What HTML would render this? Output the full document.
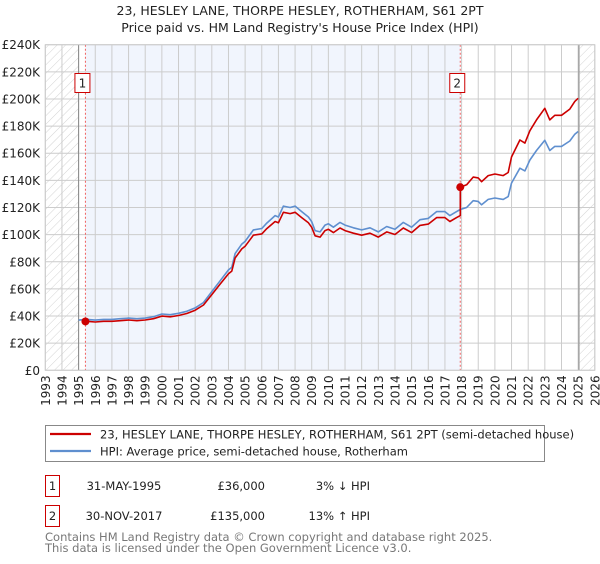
<!DOCTYPE html>
<html><head><meta charset="utf-8">
<style>
body{margin:0;background:#fff;width:600px;height:560px;overflow:hidden;font-family:"DejaVu Sans","Liberation Sans",sans-serif;}
svg text{font-family:"DejaVu Sans","Liberation Sans",sans-serif;}
</style></head>
<body>
<svg id="chart" width="600" height="560" viewBox="0 0 600 560" xmlns="http://www.w3.org/2000/svg">
<defs>
<pattern id="hatch" width="6" height="6" patternUnits="userSpaceOnUse" patternTransform="rotate(45)">
<rect width="6" height="6" fill="#fff"/><line x1="0" y1="0" x2="0" y2="6" stroke="#c8c8c8" stroke-width="0.8"/>
</pattern>
</defs>
<text x="300" y="15" text-anchor="middle" font-size="12.5" fill="#222">23, HESLEY LANE, THORPE HESLEY, ROTHERHAM, S61 2PT</text>
<text x="300" y="32" text-anchor="middle" font-size="12.5" fill="#222">Price paid vs. HM Land Registry's House Price Index (HPI)</text>
<g id="plot"></g>
<g>
<rect x="45.5" y="425.5" width="499" height="36" fill="#fff" stroke="#888"/>
<line x1="50" y1="434" x2="91" y2="434" stroke="#cc0000" stroke-width="2.2"/>
<text x="100" y="438.5" font-size="11.5" fill="#222">23, HESLEY LANE, THORPE HESLEY, ROTHERHAM, S61 2PT (semi-detached house)</text>
<line x1="50" y1="451" x2="91" y2="451" stroke="#5f8fcf" stroke-width="2.2"/>
<text x="100" y="455.5" font-size="11.5" fill="#222">HPI: Average price, semi-detached house, Rotherham</text>
</g>
<g font-size="11.5" fill="#222">
<rect x="45.5" y="475.5" width="14" height="21" fill="#fff" stroke="#cc0000"/>
<text x="52.5" y="490" text-anchor="middle">1</text>
<text x="124" y="490" text-anchor="middle">31-MAY-1995</text>
<text x="265" y="490" text-anchor="end">£36,000</text>
<text x="370" y="490" text-anchor="end">3% ↓ HPI</text>
<rect x="45.5" y="505.5" width="14" height="21" fill="#fff" stroke="#cc0000"/>
<text x="52.5" y="520" text-anchor="middle">2</text>
<text x="124" y="520" text-anchor="middle">30-NOV-2017</text>
<text x="265" y="520" text-anchor="end">£135,000</text>
<text x="370" y="520" text-anchor="end">13% ↑ HPI</text>
</g>
<text x="45" y="541" font-size="11.5" fill="#777">Contains HM Land Registry data © Crown copyright and database right 2025.</text>
<text x="45" y="552" font-size="11.5" fill="#777">This data is licensed under the Open Government Licence v3.0.</text>
</svg>
<script>
const hpiYears=[1995.0,1995.5,1996.0,1996.5,1997.0,1997.5,1998.0,1998.5,1999.0,1999.5,2000.0,2000.5,2001.0,2001.5,2002.0,2002.5,2003.0,2003.5,2004.0,2004.2,2004.4,2004.8,2005.0,2005.5,2006.0,2006.3,2006.8,2007.0,2007.3,2007.7,2008.0,2008.4,2008.8,2009.0,2009.2,2009.5,2009.8,2010.0,2010.3,2010.7,2011.0,2011.5,2012.0,2012.5,2013.0,2013.5,2014.0,2014.5,2015.0,2015.5,2016.0,2016.5,2017.0,2017.3,2017.7,2017.92,2018.3,2018.7,2019.0,2019.2,2019.6,2020.0,2020.5,2020.8,2021.0,2021.5,2021.8,2022.1,2022.5,2023.0,2023.3,2023.6,2024.0,2024.5,2024.8,2025.0];
const hpiValues=[37,37.5,37,37.5,37.5,38,38.5,38,38.5,39.5,41.5,41,42,43.5,46,50,58,66,74,76,86,93,95,103.5,104.5,108.5,114,113,121,120,121,117,113,109.5,103,102,107,108,105.5,109,107,105,103.5,105,102,106,104,109,105.5,111,112,117,117,114,117,118.5,120,125,124.5,122,126,127,126,128,138,149,147,155,162,169.5,162,165,165,169,174,176];
const sales=[{year:1995.41,price:36},{year:2017.92,price:135}];
const yTicks=[0,20,40,60,80,100,120,140,160,180,200,220,240];
const xYears=[];for(let y=1993;y<=2026;y++)xYears.push(y);

const X0=45.3,X1=594.8,Y0=370.3,Y1=44.7;
const xs=y=>X0+(y-1993)/(2026-1993)*(X1-X0);
const ys=v=>Y0-v/240*(Y0-Y1);
const NS="http://www.w3.org/2000/svg";
const plot=document.getElementById('plot');
function mk(tag,attrs,parent){const e=document.createElementNS(NS,tag);for(const k in attrs)e.setAttribute(k,attrs[k]);(parent||plot).appendChild(e);return e;}

const bg=mk('rect',{x:X0,y:Y1,width:X1-X0,height:Y0-Y1,fill:'#fff'});


const shade=mk('rect',{x:xs(sales[0].year),y:Y1,width:xs(sales[1].year)-xs(sales[0].year),height:Y0-Y1,fill:'#f1f5fd'});


const h1=mk('rect',{x:X0,y:Y1,width:xs(1995.0)-X0,height:Y0-Y1,fill:'url(#hatch)'});


const h2=mk('rect',{x:xs(2025.1),y:Y1,width:X1-xs(2025.1),height:Y0-Y1,fill:'url(#hatch)'});



yTicks.forEach(v=>{
  const l=mk('line',{x1:X0,x2:X1,y1:ys(v),y2:ys(v),stroke:'#cccccc','stroke-width':1});
  
  
  const t=mk('text',{x:40,y:ys(v)+4.5,'text-anchor':'end','font-size':12,fill:'#222'});
  t.textContent=v===0?'£0':'£'+v+'K';
  
  
});
xYears.forEach(y=>{
  const l=mk('line',{x1:xs(y),x2:xs(y),y1:Y1,y2:Y0,stroke:'#cccccc','stroke-width':1});
  
  
  const t=mk('text',{transform:`translate(${xs(y)+4.5},${Y0+5}) rotate(-90)`,'text-anchor':'end','font-size':12,fill:'#222'});
  t.textContent=y;
  
  
});
const v1=mk('line',{x1:xs(1995.0),x2:xs(1995.0),y1:Y1,y2:Y0,stroke:'#888','stroke-width':1});


const v2=mk('line',{x1:xs(2025.05),x2:xs(2025.05),y1:Y1,y2:Y0,stroke:'#888','stroke-width':1});



sales.forEach((s,i)=>{
  const d=mk('line',{x1:xs(s.year),x2:xs(s.year),y1:Y1,y2:Y0,stroke:'#f06060','stroke-width':1,'stroke-dasharray':'2,2'});
  
  
});

function hpiAt(y){for(let i=1;i<hpiYears.length;i++){if(y<=hpiYears[i]){const t=(y-hpiYears[i-1])/(hpiYears[i]-hpiYears[i-1]);return hpiValues[i-1]+t*(hpiValues[i]-hpiValues[i-1]);}}return hpiValues[hpiValues.length-1];}

let bp='';hpiYears.forEach((y,i)=>{bp+=(i?'L':'M')+xs(y).toFixed(1)+','+ys(hpiValues[i]).toFixed(1);});
const blue=mk('path',{d:bp,fill:'none',stroke:'#5f8fcf','stroke-width':1.6,'stroke-linejoin':'round'});



const r1=sales[0].price/hpiAt(sales[0].year), r2=sales[1].price/hpiAt(sales[1].year);
let rp='M'+xs(sales[0].year).toFixed(1)+','+ys(sales[0].price).toFixed(1);
hpiYears.forEach((y,i)=>{if(y>sales[0].year&&y<sales[1].year)rp+='L'+xs(y).toFixed(1)+','+ys(hpiValues[i]*r1).toFixed(1);});
rp+='L'+xs(sales[1].year).toFixed(1)+','+ys(hpiAt(sales[1].year)*r1).toFixed(1);
rp+='L'+xs(sales[1].year).toFixed(1)+','+ys(sales[1].price).toFixed(1);
hpiYears.forEach((y,i)=>{if(y>sales[1].year)rp+='L'+xs(y).toFixed(1)+','+ys(hpiValues[i]*r2).toFixed(1);});
const red=mk('path',{d:rp,fill:'none',stroke:'#cc0000','stroke-width':1.6,'stroke-linejoin':'round'});



sales.forEach((s,i)=>{
  const c=mk('circle',{cx:xs(s.year),cy:ys(s.price),r:4,fill:'#cc0000'});
  
  
  const g=mk('g',{});
  
  
  const cx=xs(s.year)-3.5;
  mk('rect',{x:cx-7,y:73.5,width:15,height:19,fill:'#fff',stroke:'#cc0000'},g);
  const t=mk('text',{x:cx+0.5,y:87.5,'text-anchor':'middle','font-size':12,fill:'#222'},g);
  t.textContent=String(i+1);
});
const border=mk('rect',{x:X0,y:Y1,width:X1-X0,height:Y0-Y1,fill:'none',stroke:'#cccccc'});


</script>
</body></html>
